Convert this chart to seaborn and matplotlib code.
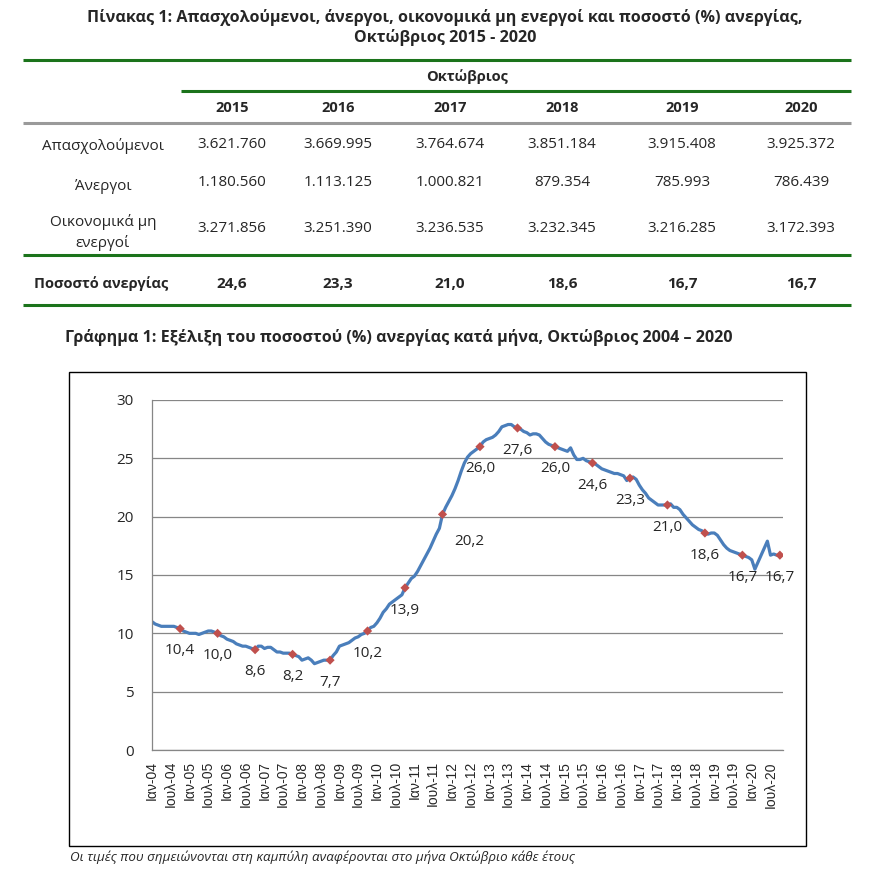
import matplotlib
matplotlib.use("Agg")
import matplotlib.pyplot as plt
import seaborn as sns
import pandas as pd
from matplotlib.lines import Line2D
from matplotlib.patches import Rectangle

# monthly unemployment rate (%), Jan 2004 - Oct 2020
y2004 = [11.0, 10.8, 10.7, 10.6, 10.6, 10.6, 10.6, 10.6, 10.5, 10.4, 10.2, 10.1]
y2005 = [10.0, 10.0, 10.0, 9.9, 10.0, 10.1, 10.2, 10.2, 10.1, 10.0, 9.8, 9.7]
y2006 = [9.5, 9.4, 9.3, 9.1, 9.0, 8.9, 8.9, 8.8, 8.7, 8.6, 8.9, 8.9]
y2007 = [8.7, 8.8, 8.8, 8.6, 8.4, 8.4, 8.3, 8.3, 8.3, 8.2, 8.1, 8.0]
y2008 = [7.7, 7.8, 7.9, 7.7, 7.4, 7.5, 7.6, 7.7, 7.7, 7.7, 8.1, 8.4]
y2009 = [8.9, 9.0, 9.1, 9.2, 9.4, 9.6, 9.7, 9.9, 10.0, 10.2, 10.5, 10.6]
y2010 = [10.9, 11.3, 11.8, 12.1, 12.5, 12.7, 12.9, 13.1, 13.3, 13.9, 14.3, 14.7]
y2011 = [14.9, 15.3, 15.8, 16.3, 16.8, 17.3, 17.9, 18.5, 19.0, 20.2, 20.8, 21.3]
y2012 = [21.8, 22.4, 23.1, 23.9, 24.6, 25.1, 25.4, 25.6, 25.8, 26.0, 26.4, 26.6]
y2013 = [26.7, 26.8, 27.0, 27.3, 27.7, 27.8, 27.9, 27.9, 27.7, 27.6, 27.5, 27.3]
y2014 = [27.2, 27.0, 27.1, 27.1, 27.0, 26.7, 26.4, 26.2, 26.1, 26.0, 25.9, 25.8]
y2015 = [25.7, 25.6, 25.9, 25.3, 24.9, 24.9, 25.0, 24.8, 24.7, 24.6, 24.5, 24.3]
y2016 = [24.1, 24.0, 23.9, 23.8, 23.7, 23.7, 23.6, 23.5, 23.1, 23.3, 23.4, 23.2]
y2017 = [22.7, 22.3, 22.0, 21.6, 21.4, 21.2, 21.0, 21.0, 21.0, 21.0, 21.1, 20.8]
y2018 = [20.8, 20.6, 20.2, 19.9, 19.6, 19.3, 19.1, 18.9, 18.8, 18.6, 18.5, 18.6]
y2019 = [18.6, 18.4, 18.0, 17.6, 17.3, 17.1, 17.0, 16.9, 16.8, 16.7, 16.6, 16.5]
y2020 = [16.3, 15.5, 16.1, 16.7, 17.3, 17.9, 16.7, 16.8, 16.7, 16.7]

# table 1
tbl_years = ["2015", "2016", "2017", "2018", "2019", "2020"]
employed = ["3.621.760", "3.669.995", "3.764.674", "3.851.184", "3.915.408", "3.925.372"]
unemployed = ["1.180.560", "1.113.125", "1.000.821", "879.354", "785.993", "786.439"]
inactive = ["3.271.856", "3.251.390", "3.236.535", "3.232.345", "3.216.285", "3.172.393"]
unemp_rate = ["24,6", "23,3", "21,0", "18,6", "16,7", "16,7"]

start_year = 2004
rate = (y2004 + y2005 + y2006 + y2007 + y2008 + y2009 + y2010 + y2011 + y2012
        + y2013 + y2014 + y2015 + y2016 + y2017 + y2018 + y2019 + y2020)

sns.set_style("white")
plt.rcParams["font.family"] = ["Open Sans", "DejaVu Sans"]

W, H = 875, 877
fig = plt.figure(figsize=(W / 100, H / 100), dpi=100)


def fx(x):
    return x / W


def fy(y):
    return 1 - y / H


def hline(y, x0, x1, color, lw=2.2):
    fig.add_artist(Line2D([fx(x0), fx(x1)], [fy(y), fy(y)], transform=fig.transFigure,
                          color=color, lw=lw, solid_capstyle="butt"))


green = "#1B731B"
grey = "#9A9A9A"

# ---- table ----
fig.text(fx(445), fy(18), "Πίνακας 1: Απασχολούμενοι, άνεργοι, οικονομικά μη ενεργοί και ποσοστό (%) ανεργίας,",
         ha="center", va="center", fontsize=11.6, fontweight="bold")
fig.text(fx(445), fy(38), "Οκτώβριος 2015 - 2020", ha="center", va="center", fontsize=11.6, fontweight="bold")

hline(60, 23, 851, green)
fig.text(fx(467), fy(77), "Οκτώβριος", ha="center", va="center", fontsize=10.5, fontweight="bold")
hline(91, 181, 851, green)

col_x = [232, 338, 450, 562, 682, 801]
for cx, yr in zip(col_x, tbl_years):
    fig.text(fx(cx), fy(108), yr, ha="center", va="center", fontsize=10.5, fontweight="bold")
hline(123, 23, 851, grey)

fig.text(fx(103), fy(146), "Απασχολούμενοι", ha="center", va="center", fontsize=11)
fig.text(fx(103), fy(186), "Άνεργοι", ha="center", va="center", fontsize=11)
fig.text(fx(103), fy(222), "Οικονομικά μη", ha="center", va="center", fontsize=11)
fig.text(fx(103), fy(243), "ενεργοί", ha="center", va="center", fontsize=11)
for cx, a, b, c in zip(col_x, employed, unemployed, inactive):
    fig.text(fx(cx), fy(144), a, ha="center", va="center", fontsize=11)
    fig.text(fx(cx), fy(182), b, ha="center", va="center", fontsize=11)
    fig.text(fx(cx), fy(228), c, ha="center", va="center", fontsize=11)
hline(255, 23, 851, green)

fig.text(fx(101), fy(284), "Ποσοστό ανεργίας", ha="center", va="center", fontsize=10.5, fontweight="bold")
for cx, r in zip(col_x, unemp_rate):
    fig.text(fx(cx), fy(284), r, ha="center", va="center", fontsize=11, fontweight="bold")
hline(305, 23, 851, green)

# ---- chart ----
fig.text(fx(65), fy(338), "Γράφημα 1: Εξέλιξη του ποσοστού (%) ανεργίας κατά μήνα, Οκτώβριος 2004 – 2020",
         ha="left", va="center", fontsize=11.6, fontweight="bold")

fig.add_artist(Rectangle((fx(69), fy(846)), (806 - 69) / W, (846 - 372) / H,
                         transform=fig.transFigure, fill=False, ec="black", lw=1.0))

ax = fig.add_axes([fx(152), fy(750), (783 - 152) / W, (750 - 400) / H])

df = pd.DataFrame({"m": range(len(rate)), "rate": rate})
sns.lineplot(data=df, x="m", y="rate", ax=ax, color="#4A7EBB", lw=2.3, zorder=2)
oct_df = df[df["m"] % 12 == 9]
sns.scatterplot(data=oct_df, x="m", y="rate", ax=ax, marker="D", color="#C0504D",
                s=22, edgecolor="none", zorder=3)

for m, v in zip(oct_df["m"], oct_df["rate"]):
    lbl = f"{v:.1f}".replace(".", ",")
    off = (0, -16)
    if abs(v - 20.2) < 0.01:
        off = (19, -19.5)
    ax.annotate(lbl, (m, v), xytext=off, textcoords="offset points",
                ha="center", va="center", fontsize=11)

ax.set_xlim(0, 202)
ax.set_ylim(0, 30)
ax.set_yticks(range(0, 31, 5))
ticks = list(range(0, len(rate), 6))
tick_labels = []
for t in ticks:
    yy = (start_year + t // 12) % 100
    tick_labels.append(f"Ιαν-{yy:02d}" if t % 12 == 0 else f"Ιουλ-{yy:02d}")
ax.set_xticks(ticks)
ax.set_xticklabels(tick_labels, rotation=90, fontsize=10, family=["Liberation Sans", "DejaVu Sans"])
ax.tick_params(axis="x", direction="out", length=5, color="#868686", pad=3)
ax.tick_params(axis="y", direction="out", length=6, color="#868686", pad=7, labelsize=11)
ax.set_xlabel("")
ax.set_ylabel("")
ax.yaxis.grid(True, color="#868686", lw=0.9)
ax.xaxis.grid(False)
ax.set_axisbelow(True)
for s in ["top", "right"]:
    ax.spines[s].set_visible(False)
for s in ["left", "bottom"]:
    ax.spines[s].set_color("#868686")
    ax.spines[s].set_linewidth(0.9)

fig.text(fx(70), fy(857), "Οι τιμές που σημειώνονται στη καμπύλη αναφέρονται στο μήνα Οκτώβριο κάθε έτους",
         ha="left", va="center", fontsize=9.6, style="italic")

fig.savefig("out.png", dpi=100)
